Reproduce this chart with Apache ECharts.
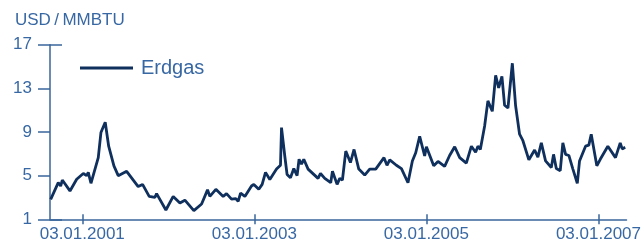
<!DOCTYPE html>
<html><head><meta charset="utf-8">
<script src="https://cdn.jsdelivr.net/npm/echarts@6/dist/echarts.min.js"></script>
<style>html,body{margin:0;padding:0;background:#fff}#c{width:644px;height:248px}</style>
</head><body><div id="c"></div>
<script>
// decimal years (2001.0 = 03.01.2001)
const years = [2000.633,2000.721,2000.749,2000.768,2000.857,2000.935,2001.012,2001.051,2001.070,2001.101,
2001.186,2001.217,2001.267,2001.307,2001.368,2001.418,2001.516,2001.650,2001.701,2001.778,
2001.844,2001.864,2001.972,2002.057,2002.135,2002.193,2002.297,2002.387,2002.456,2002.483,
2002.553,2002.638,2002.677,2002.735,2002.785,2002.812,2002.840,2002.890,2002.967,2002.994,
2003.052,2003.091,2003.130,2003.180,2003.258,2003.304,2003.316,2003.354,2003.381,2003.420,
2003.459,2003.497,2003.520,2003.548,2003.575,2003.625,2003.741,2003.769,2003.819,2003.888,
2003.908,2003.962,2003.993,2004.024,2004.063,2004.117,2004.159,2004.214,2004.283,2004.341,
2004.411,2004.507,2004.542,2004.574,2004.651,2004.710,2004.786,2004.837,2004.876,2004.922,
2004.980,2005.000,2005.085,2005.135,2005.212,2005.270,2005.329,2005.387,2005.464,2005.523,
2005.572,2005.599,2005.627,2005.677,2005.715,2005.766,2005.805,2005.840,2005.878,2005.909,
2005.948,2005.999,2006.037,2006.083,2006.122,2006.191,2006.258,2006.296,2006.336,2006.385,
2006.452,2006.478,2006.510,2006.556,2006.586,2006.618,2006.656,2006.703,2006.754,2006.780,
2006.850,2006.888,2006.916,2006.981,2007.021,2007.109,2007.198,2007.253,2007.276,2007.311];
const gasPrice = [2.83,4.36,4.05,4.6,3.6,4.67,5.2,5.0,5.3,4.3,
6.65,8.95,9.9,7.7,5.9,5.0,5.4,4.0,4.2,3.1,
3.0,3.35,1.85,3.1,2.5,2.75,1.8,2.4,3.7,3.1,
3.75,3.1,3.35,2.85,2.9,2.65,3.4,3.1,4.05,4.2,
3.75,4.2,5.3,4.65,5.6,5.95,9.4,6.8,5.1,4.8,
5.65,5.0,6.5,6.05,6.5,5.6,4.75,5.2,4.75,4.35,
5.4,4.2,4.75,4.6,7.25,6.2,7.4,5.6,5.05,5.6,
5.6,6.65,5.95,6.45,5.95,5.65,4.35,6.35,7.1,8.6,
6.8,7.65,5.9,6.3,5.85,6.85,7.65,6.65,6.15,7.7,
7.15,7.7,7.4,9.55,11.85,10.9,14.2,13.05,14.1,11.45,
11.2,15.3,11.4,8.8,8.2,6.45,7.35,6.7,8.0,6.35,
5.75,6.95,5.65,5.45,8.0,6.95,6.85,5.6,4.3,6.35,
7.7,7.8,8.8,5.9,6.5,7.7,6.65,8.0,7.45,7.6];
const xTickYears = [2001,2003,2005,2007];
const yTicks = [1,5,9,13,17];
const yEndTicks = [1,17];
const seriesName = 'Erdgas';
const unitLabel = 'USD\u2009/\u2009MMBTU';

const axisColor = '#3a659a';
const textColor = '#3868a4';
const lineColor = '#0f2f5d';
const chart = echarts.init(document.getElementById('c'), null, {renderer:'canvas'});
chart.setOption({
  animation:false,
  textStyle:{fontFamily:'Liberation Sans, Arial, sans-serif'},
  title:{text:unitLabel,left:10,top:7,textStyle:{fontSize:17,fontWeight:'normal',color:textColor,fontFamily:'Liberation Sans'}},
  legend:{left:75,top:53,icon:'rect',itemWidth:53,itemHeight:3,itemGap:8,
    textStyle:{fontSize:20,color:textColor,fontFamily:'Liberation Sans',padding:[0,0,0,3]},data:[seriesName]},
  grid:{left:50,right:17,top:44.7,bottom:28.7,containLabel:false},
  xAxis:[{type:'value',min:2000.625,max:2007.326,
    axisLine:{show:true,lineStyle:{color:axisColor,width:1.5}},
    axisTick:{show:true,customValues:xTickYears,length:5,lineStyle:{color:axisColor,width:1.5}},
    axisLabel:{show:true,customValues:xTickYears,margin:7,fontSize:17,color:textColor,fontFamily:'Liberation Sans',
      formatter:v=>'03.01.'+Math.round(v)},
    splitLine:{show:false}},
   {type:'value',min:2000.625,max:2007.326,position:'bottom',
    axisLine:{show:false},
    axisTick:{show:true,inside:true,customValues:xTickYears,length:5,lineStyle:{color:axisColor,width:1.5}},
    axisLabel:{show:false},splitLine:{show:false}}],
  yAxis:[{type:'value',min:1,max:17,
    axisLine:{show:true,lineStyle:{color:axisColor,width:1.5}},
    axisTick:{show:true,customValues:yTicks,length:12,lineStyle:{color:axisColor,width:1.5}},
    axisLabel:{show:true,customValues:yTicks,margin:18,fontSize:17,color:textColor,fontFamily:'Liberation Sans'},
    splitLine:{show:false}},
   {type:'value',min:1,max:17,position:'left',
    axisLine:{show:false},
    axisTick:{show:true,inside:true,customValues:yEndTicks,length:12,lineStyle:{color:axisColor,width:1.5}},
    axisLabel:{show:false},splitLine:{show:false}}],
  series:[{name:seriesName,type:'line',showSymbol:false,symbol:'none',
    lineStyle:{color:lineColor,width:2.8},itemStyle:{color:lineColor},
    data:years.map((y,i)=>[y,gasPrice[i]])}]
});
</script></body></html>
